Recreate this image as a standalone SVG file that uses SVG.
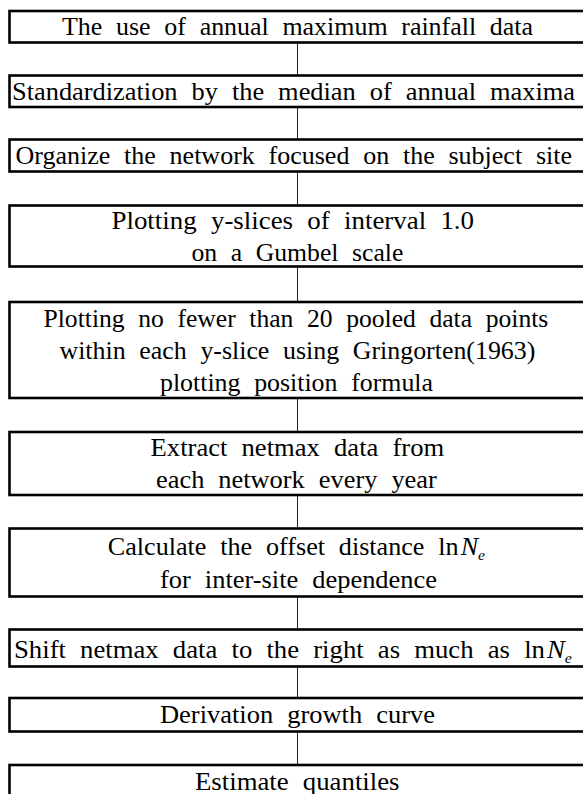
<svg xmlns="http://www.w3.org/2000/svg" width="583" height="794" viewBox="0 0 583 794">
<style>
.box{fill:#fff;stroke:#000;stroke-width:2.6}
.c line{stroke:#222;stroke-width:1}
</style>
<rect width="583" height="794" fill="#fff"/>
<g id="connectors" class="c">
<line x1="297.5" y1="42.5" x2="297.5" y2="75.5"/>
<line x1="297.5" y1="107" x2="297.5" y2="139.5"/>
<line x1="297.5" y1="171.5" x2="297.5" y2="205.5"/>
<line x1="297.5" y1="266.5" x2="297.5" y2="302"/>
<line x1="297.5" y1="398" x2="297.5" y2="432"/>
<line x1="297.5" y1="495" x2="297.5" y2="528.5"/>
<line x1="297.5" y1="596.5" x2="297.5" y2="629.5"/>
<line x1="297.5" y1="666.5" x2="297.5" y2="698"/>
<line x1="297.5" y1="731.5" x2="297.5" y2="765"/>
</g>
<g id="nodes" font-family="Liberation Serif" font-size="25" word-spacing="7" fill="#000">
<g id="n1"><rect class="box" x="9.5" y="11" width="577" height="31.5"/>
<text x="62" y="35" textLength="471" lengthAdjust="spacingAndGlyphs">The use of annual maximum rainfall data</text></g>
<g id="n2"><rect class="box" x="9.5" y="75.5" width="577" height="31.5"/>
<text x="12" y="99.5" textLength="563" lengthAdjust="spacingAndGlyphs">Standardization by the median of annual maxima</text></g>
<g id="n3"><rect class="box" x="9.5" y="139.5" width="577" height="32"/>
<text x="15.5" y="164" textLength="556.5" lengthAdjust="spacingAndGlyphs">Organize the network focused on the subject site</text></g>
<g id="n4"><rect class="box" x="9.5" y="205.5" width="577" height="61"/>
<text x="111.5" y="229" textLength="362.5" lengthAdjust="spacingAndGlyphs">Plotting y-slices of interval 1.0</text>
<text x="191.4" y="260.5" textLength="212" lengthAdjust="spacingAndGlyphs">on a Gumbel scale</text></g>
<g id="n5"><rect class="box" x="9.5" y="302" width="577" height="96"/>
<text x="43.5" y="327.3" textLength="504.8" lengthAdjust="spacingAndGlyphs">Plotting no fewer than 20 pooled data points</text>
<text x="59.5" y="359.3" textLength="475.8" lengthAdjust="spacingAndGlyphs">within each y-slice using Gringorten(1963)</text>
<text x="160" y="390.7" textLength="273" lengthAdjust="spacingAndGlyphs">plotting position formula</text></g>
<g id="n6"><rect class="box" x="9.5" y="432" width="577" height="63"/>
<text x="150.6" y="456" textLength="293.6" lengthAdjust="spacingAndGlyphs">Extract netmax data from</text>
<text x="156" y="488" textLength="280.8" lengthAdjust="spacingAndGlyphs">each network every year</text></g>
<g id="n7"><rect class="box" x="9.5" y="528.5" width="577" height="68"/>
<text x="107.8" y="554.5" textLength="377.3" lengthAdjust="spacingAndGlyphs">Calculate the offset distance ln<tspan font-style="italic" dx="2">N</tspan><tspan font-style="italic" font-size="15" dy="5">e</tspan></text>
<text x="160" y="588" textLength="277" lengthAdjust="spacingAndGlyphs">for inter-site dependence</text></g>
<g id="n8"><rect class="box" x="9.5" y="629.5" width="577" height="37"/>
<text x="14" y="657.5" textLength="558" lengthAdjust="spacingAndGlyphs">Shift netmax data to the right as much as ln<tspan font-style="italic" dx="2">N</tspan><tspan font-style="italic" font-size="15" dy="5">e</tspan></text></g>
<g id="n9"><rect class="box" x="9.5" y="698" width="577" height="33.5"/>
<text x="160" y="723" textLength="275" lengthAdjust="spacingAndGlyphs">Derivation growth curve</text></g>
<g id="n10"><rect class="box" x="9.5" y="765" width="577" height="34"/>
<text x="195" y="789.5" textLength="204.5" lengthAdjust="spacingAndGlyphs">Estimate quantiles</text></g>
</g>
</svg>
